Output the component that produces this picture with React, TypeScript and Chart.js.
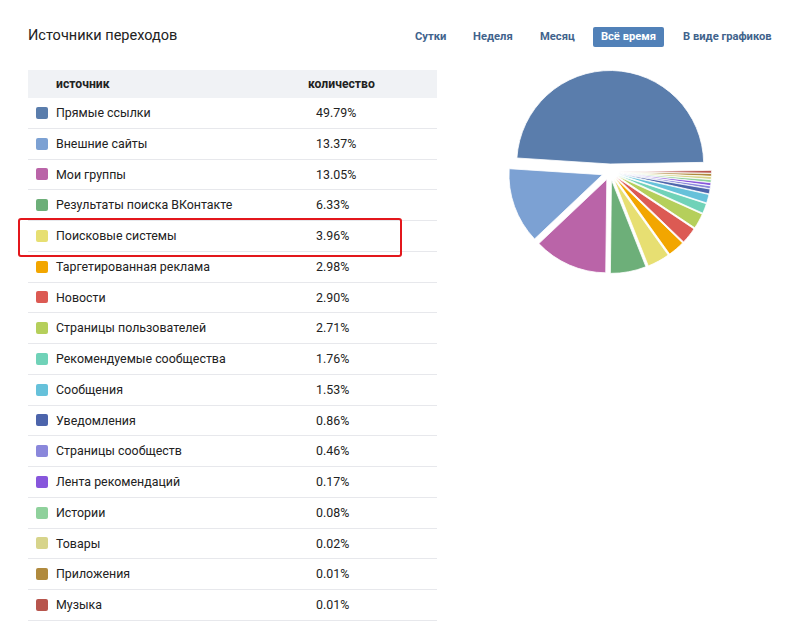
import React, { useEffect, useRef } from "react";
import { Chart, registerables } from "chart.js";

Chart.register(...registerables);

const categories = [
  "Прямые ссылки",
  "Внешние сайты",
  "Мои группы",
  "Результаты поиска ВКонтакте",
  "Поисковые системы",
  "Таргетированная реклама",
  "Новости",
  "Страницы пользователей",
  "Рекомендуемые сообщества",
  "Сообщения",
  "Уведомления",
  "Страницы сообществ",
  "Лента рекомендаций",
  "Истории",
  "Товары",
  "Приложения",
  "Музыка",
];

const values = [49.79, 13.37, 13.05, 6.33, 3.96, 2.98, 2.9, 2.71, 1.76, 1.53, 0.86, 0.46, 0.17, 0.08, 0.02, 0.01, 0.01];

// the pie shows every source with at least this share, so tiny ones stay visible
const MIN_SLICE_SHARE = 0.5;

const colors = [
  "#5a7dac",
  "#7ca1d3",
  "#ba64a8",
  "#6daf79",
  "#e7df72",
  "#f2a600",
  "#dc5a53",
  "#b5cf5b",
  "#70d2b8",
  "#66c1da",
  "#4c64ab",
  "#8a87db",
  "#8756dc",
  "#8fd19c",
  "#d7d48b",
  "#b08a3e",
  "#b7554d",
];

const tabs = ["Сутки", "Неделя", "Месяц", "Всё время", "В виде графиков"];
const tabLeft = [415, 473, 540, 593, 683];

const FONT = "Roboto, 'Noto Sans', Arial, sans-serif";
const ROW_TOP = 98;
const ROW_H = 30.75;
const PIE_RADIUS = 93.5;
const SLICE_SHIFT = 8; // px each slice is pulled out along its bisector

// pull each slice out from the centre along its own bisector (exploded pie)
const explodePlugin = {
  id: "explode",
  afterDatasetUpdate(chart: any, args: any) {
    args.meta.data.forEach((arc: any) => {
      const mid = (arc.startAngle + arc.endAngle) / 2;
      arc.x += Math.cos(mid) * SLICE_SHIFT;
      arc.y += Math.sin(mid) * SLICE_SHIFT;
    });
  },
};

function PieChart() {
  const ref = useRef<HTMLCanvasElement>(null);
  useEffect(() => {
    if (!ref.current) return;
    const rev = <T,>(a: T[]) => a.slice().reverse();
    const shown = values.map((v) => Math.max(v, MIN_SLICE_SHARE));
    const chart = new Chart(ref.current, {
      type: "pie",
      data: {
        labels: rev(categories),
        datasets: [
          {
            data: rev(shown),
            backgroundColor: rev(colors),
            borderColor: "#ffffff",
            borderWidth: 0.8,
          },
        ],
      },
      options: {
        responsive: false,
        animation: false,
        radius: PIE_RADIUS,
        rotation: 89,
        plugins: {
          legend: { display: false },
          tooltip: { enabled: false },
        },
      },
      plugins: [explodePlugin],
    });
    return () => chart.destroy();
  }, []);
  return (
    <canvas
      ref={ref}
      width={240}
      height={240}
      style={{ position: "absolute", left: 490, top: 52, width: 240, height: 240 }}
    />
  );
}

export default function App() {
  useEffect(() => {
    document.body.style.margin = "0";
  }, []);
  return (
    <div
      style={{
        position: "relative",
        width: 800,
        height: 639,
        background: "#fff",
        fontFamily: FONT,
        color: "#222",
        overflow: "hidden",
      }}
    >
      <div style={{ position: "absolute", left: 28, top: 26, fontSize: 14.5, lineHeight: "20px", color: "#222" }}>
        Источники переходов
      </div>

      {tabs.map((t, i) =>
        i === 3 ? (
          <div
            key={t}
            style={{
              position: "absolute",
              left: tabLeft[i],
              top: 27,
              width: 71,
              height: 20,
              background: "#5181b8",
              borderRadius: 2,
              color: "#fff",
              fontWeight: 700,
              fontSize: 11.2,
              lineHeight: "20px",
              textAlign: "center",
            }}
          >
            {t}
          </div>
        ) : (
          <div
            key={t}
            style={{
              position: "absolute",
              left: tabLeft[i],
              top: 27,
              height: 20,
              color: "#41638c",
              fontWeight: 700,
              fontSize: 11.2,
              lineHeight: "20px",
              whiteSpace: "nowrap",
            }}
          >
            {t}
          </div>
        )
      )}

      <div
        style={{
          position: "absolute",
          left: 28,
          top: 70,
          width: 409,
          height: 28,
          background: "#f0f2f5",
          fontWeight: 700,
          fontSize: 12.2,
          lineHeight: "28px",
          color: "#222",
        }}
      >
        <span style={{ position: "absolute", left: 28 }}>источник</span>
        <span style={{ position: "absolute", left: 280 }}>количество</span>
      </div>

      {categories.map((c, i) => (
        <div
          key={c}
          style={{
            position: "absolute",
            left: 28,
            top: ROW_TOP + ROW_H * i,
            width: 409,
            height: ROW_H,
            borderBottom: "1px solid #e7e8ec",
            boxSizing: "border-box",
            fontSize: 12.4,
            lineHeight: ROW_H - 1 + "px",
            color: "#222",
          }}
        >
          <span
            style={{
              position: "absolute",
              left: 8,
              top: (ROW_H - 1) / 2 - 6,
              width: 12,
              height: 12,
              borderRadius: 2,
              background: colors[i],
            }}
          />
          <span style={{ position: "absolute", left: 28, whiteSpace: "nowrap" }}>{c}</span>
          <span style={{ position: "absolute", left: 288 }}>{values[i].toFixed(2)}%</span>
        </div>
      ))}

      <div
        style={{
          position: "absolute",
          left: 18,
          top: 218,
          width: 384,
          height: 39,
          border: "2.5px solid #e3171c",
          borderRadius: 3,
          boxSizing: "border-box",
        }}
      />

      <PieChart />
    </div>
  );
}
